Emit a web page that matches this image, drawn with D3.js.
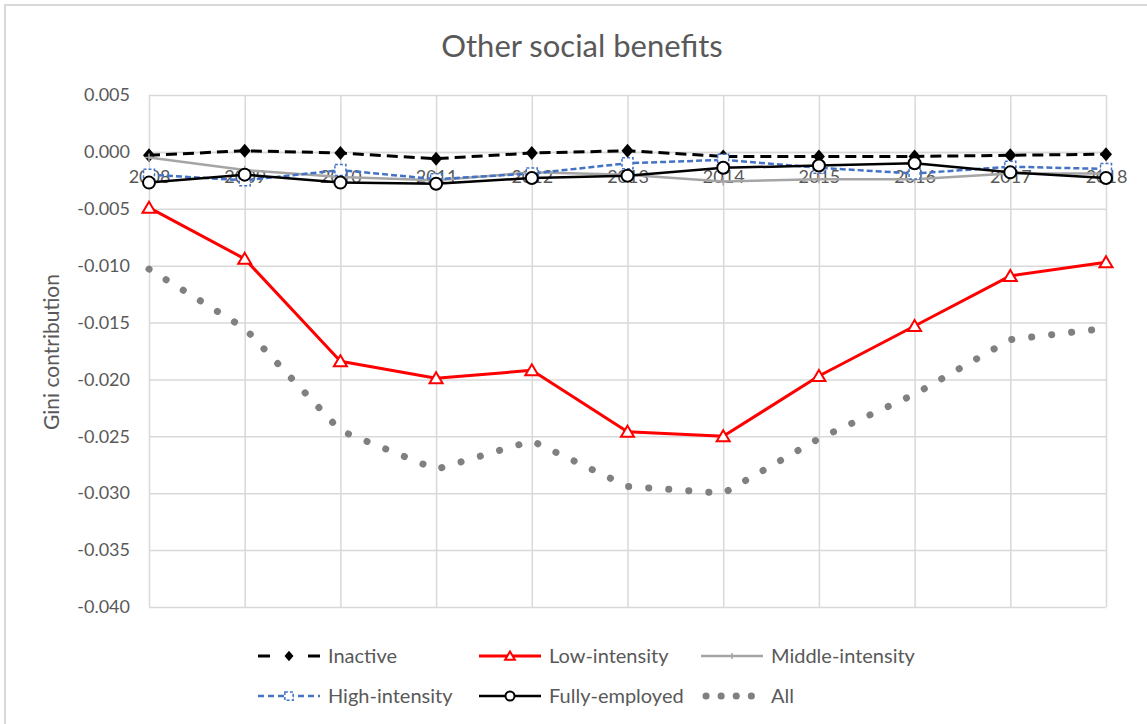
<!DOCTYPE html>
<html>
<head>
<meta charset="utf-8">
<script src="https://cdn.jsdelivr.net/npm/d3@7"></script>
<style>
  body { margin: 0; background: #fff; }
  #chart { width: 1147px; height: 724px; }
  text { font-family: Lato, "Open Sans", sans-serif; fill: #595959; }
</style>
</head>
<body>
<div id="chart"></div>
<script>
const years = [2008, 2009, 2010, 2011, 2012, 2013, 2014, 2015, 2016, 2017, 2018];
const yTicks = [0.005, 0, -0.005, -0.010, -0.015, -0.020, -0.025, -0.030, -0.035, -0.040];

const inactive = [-0.0003, 0.0001, -0.0001, -0.0006, -0.0001, 0.0001, -0.0004, -0.0004, -0.0004, -0.0003, -0.0002];
const lowIntensity = [-0.0049, -0.0094, -0.0184, -0.0199, -0.0192, -0.0246, -0.0250, -0.0197, -0.0153, -0.0109, -0.0097];
const middleIntensity = [-0.0005, -0.0016, -0.0022, -0.0025, -0.0018, -0.0020, -0.0026, -0.0024, -0.0024, -0.0019, -0.0019];
const highIntensity = [-0.0020, -0.0025, -0.0016, -0.0024, -0.0019, -0.0010, -0.0007, -0.0014, -0.0019, -0.0013, -0.0015];
const fullyEmployed = [-0.0027, -0.0020, -0.0027, -0.0028, -0.0023, -0.0021, -0.0014, -0.0012, -0.0010, -0.0018, -0.0023];
const all = [-0.0103, -0.0155, -0.0245, -0.0279, -0.0254, -0.0294, -0.0300, -0.0252, -0.0213, -0.0165, -0.0155];

const series = [
  { name: "Inactive", values: inactive, color: "#000000", width: 3, dash: "11,6", legendDash: "12,38,12", marker: "diamond" },
  { name: "Low-intensity", values: lowIntensity, color: "#FF0000", width: 3, dash: null, legendDash: null, marker: "triangle" },
  { name: "Middle-intensity", values: middleIntensity, color: "#A5A5A5", width: 2.5, dash: null, legendDash: null, marker: "plus" },
  { name: "High-intensity", values: highIntensity, color: "#4472C4", width: 2.5, dash: "6,3", legendDash: "6,4", marker: "square" },
  { name: "Fully-employed", values: fullyEmployed, color: "#000000", width: 2.5, dash: null, legendDash: null, marker: "circle" },
  { name: "All", values: all, color: "#808080", width: 7, dash: "0.1,20", legendDash: "0.1,15", marker: null }
];

const W = 1147, H = 724;
const margin = { top: 95, right: 41, bottom: 117, left: 149 };

const svg = d3.select("#chart").append("svg")
  .attr("width", W)
  .attr("height", H);

// chart area border
svg.append("rect")
  .attr("x", 5).attr("y", 5)
  .attr("width", W + 20).attr("height", H + 20)
  .attr("fill", "#fff")
  .attr("stroke", "#D9D9D9")
  .attr("stroke-width", 2);

const x = d3.scalePoint()
  .domain(years)
  .range([margin.left, W - margin.right]);

const y = d3.scaleLinear()
  .domain([-0.040, 0.005])
  .range([H - margin.bottom, margin.top]);

// Excel style labels use a plain hyphen for negatives
const fmt = d => d3.format(".3f")(d).replace("\u2212", "-");

// horizontal gridlines
svg.append("g")
  .attr("transform", "translate(" + margin.left + ",0)")
  .call(d3.axisLeft(y).tickValues(yTicks).tickSize(-(W - margin.right - margin.left)).tickFormat(""))
  .call(g => g.select(".domain").remove())
  .call(g => g.selectAll("line").attr("stroke", "#D9D9D9").attr("stroke-width", 1.5));

// vertical gridlines
svg.append("g")
  .attr("transform", "translate(0," + margin.top + ")")
  .call(d3.axisBottom(x).tickSize(H - margin.bottom - margin.top).tickFormat(""))
  .call(g => g.select(".domain").remove())
  .call(g => g.selectAll("line").attr("stroke", "#D9D9D9").attr("stroke-width", 1.5));

// y tick labels
svg.append("g")
  .attr("transform", "translate(130,0)")
  .call(d3.axisLeft(y).tickValues(yTicks).tickSize(0).tickFormat(fmt))
  .call(g => g.select(".domain").remove())
  .call(g => g.selectAll("text")
    .attr("x", 0)
    .style("font-size", "18px")
    .style("font-family", "Lato, sans-serif")
    .attr("fill", "#595959"));

// x axis labels, crossing at zero
svg.append("g")
  .attr("transform", "translate(0," + y(0) + ")")
  .call(d3.axisBottom(x).tickSize(0).tickPadding(18))
  .call(g => g.select(".domain").attr("stroke", "#D9D9D9").attr("stroke-width", 1.5))
  .call(g => g.selectAll("text")
    .style("font-size", "18px")
    .style("font-family", "Lato, sans-serif")
    .attr("fill", "#595959"));

// title
svg.append("text")
  .attr("x", 582).attr("y", 57)
  .attr("text-anchor", "middle")
  .style("font-size", "31px")
  .text("Other social benefits");

// y axis title
svg.append("text")
  .attr("transform", "translate(59,352) rotate(-90)")
  .attr("text-anchor", "middle")
  .style("font-size", "21px")
  .text("Gini contribution");

function drawMarker(g, type, color, cx, cy, k) {
  if (type === "diamond") {
    g.append("path")
      .attr("d", `M${cx},${cy - 7 * k}L${cx + 6 * k},${cy}L${cx},${cy + 7 * k}L${cx - 6 * k},${cy}Z`)
      .attr("fill", color);
  } else if (type === "triangle") {
    g.append("path")
      .attr("d", `M${cx},${cy - 6 * k}L${cx + 6.5 * k},${cy + 5 * k}L${cx - 6.5 * k},${cy + 5 * k}Z`)
      .attr("fill", "#fff").attr("stroke", color).attr("stroke-width", 2);
  } else if (type === "plus") {
    g.append("path")
      .attr("d", `M${cx - 4 * k},${cy}H${cx + 4 * k}M${cx},${cy - 4 * k}V${cy + 4 * k}`)
      .attr("stroke", color).attr("stroke-width", 1.5);
  } else if (type === "square") {
    g.append("rect")
      .attr("x", cx - 5.5 * k).attr("y", cy - 5.5 * k)
      .attr("width", 11 * k).attr("height", 11 * k)
      .attr("fill", "#fff").attr("stroke", color).attr("stroke-width", 1.5)
      .attr("stroke-dasharray", "3,2");
  } else if (type === "circle") {
    g.append("circle")
      .attr("cx", cx).attr("cy", cy).attr("r", 6 * k)
      .attr("fill", "#fff").attr("stroke", color).attr("stroke-width", 2);
  }
}

const line = d3.line()
  .x((d, i) => x(years[i]))
  .y(d => y(d));

series.forEach(s => {
  const g = svg.append("g");
  g.append("path")
    .datum(s.values)
    .attr("fill", "none")
    .attr("stroke", s.color)
    .attr("stroke-width", s.width)
    .attr("stroke-dasharray", s.dash)
    .attr("stroke-linecap", s.marker === null ? "round" : "butt")
    .attr("stroke-linejoin", "round")
    .attr("d", line);
  if (s.marker) {
    s.values.forEach((v, i) => drawMarker(g, s.marker, s.color, x(years[i]), y(v), 1));
  }
});

// legend
const legendCols = [258, 479, 701];
const legendRows = [656, 696];
series.forEach((s, i) => {
  const lx = legendCols[i % 3];
  const ly = legendRows[Math.floor(i / 3)];
  const g = svg.append("g");
  g.append("line")
    .attr("x1", s.marker === null ? lx + 5 : lx).attr("x2", lx + 62)
    .attr("y1", ly).attr("y2", ly)
    .attr("stroke", s.color)
    .attr("stroke-width", s.marker === null ? 7 : s.width)
    .attr("stroke-dasharray", s.legendDash)
    .attr("stroke-linecap", s.marker === null ? "round" : "butt");
  if (s.marker) drawMarker(g, s.marker, s.color, lx + 31, ly, 0.75);
  g.append("text")
    .attr("x", lx + 70)
    .attr("y", ly)
    .attr("dy", "0.35em")
    .style("font-size", "20px")
    .text(s.name);
});
</script>
</body>
</html>
